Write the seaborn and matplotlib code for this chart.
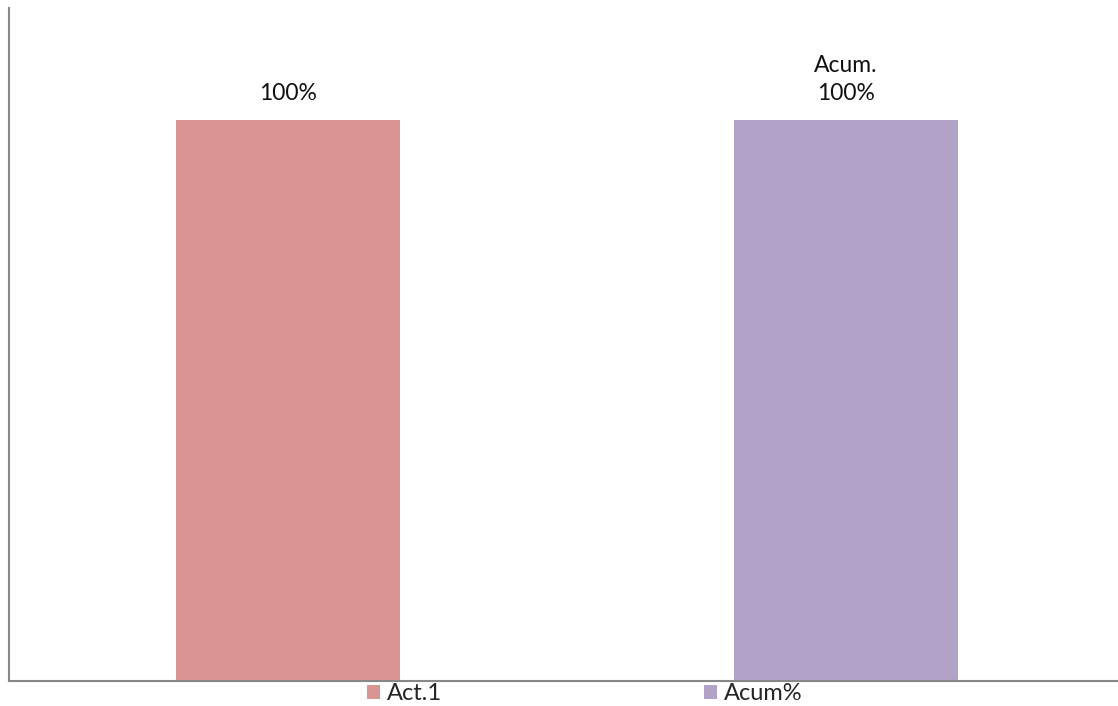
import matplotlib
matplotlib.use("Agg")
import matplotlib.pyplot as plt
import seaborn as sns
import pandas as pd
from matplotlib.patches import Patch

categories = ["Act.1", "Acum%"]
values = [100, 100]
labels = ["100%", "Acum.\n100%"]
colors = ["#D99594", "#B3A2C7"]

sns.set_theme(style="white")
plt.rcParams['font.family'] = ['Lato', 'DejaVu Sans']

df = pd.DataFrame({"cat": categories, "val": values})

fig = plt.figure(figsize=(11.18, 7.06), dpi=100)
ax = fig.add_axes([9/1118, 1 - 681/706, (1117 - 9)/1118, (681 - 8)/706])

sns.barplot(data=df, x="cat", y="val", hue="cat", palette=colors,
            width=0.401, ax=ax, legend=False, saturation=1, linewidth=0)

ax.set_xlim(-0.5, 1.486)
ax.set_ylim(0, 120)
ax.set_xticks([])
ax.set_yticks([])
ax.set_xlabel("")
ax.set_ylabel("")
for s in ["top", "right"]:
    ax.spines[s].set_visible(False)
for s in ["left", "bottom"]:
    ax.spines[s].set_color("#888888")
    ax.spines[s].set_linewidth(1.5)

for i, (v, lab) in enumerate(zip(values, labels)):
    ax.annotate(lab, xy=(i, v), xytext=(0, 12), textcoords="offset points",
                ha="center", va="bottom", fontsize=16.5, color="#111111",
                linespacing=1.4)

handles = [Patch(facecolor=c, edgecolor="none") for c in colors]
fig.legend(handles, categories, loc="center", bbox_to_anchor=(585/1118, 1 - 694/706),
           ncol=2, frameon=False, fontsize=17, handlelength=0.55, handleheight=0.55,
           handletextpad=0.3, columnspacing=11.1, borderpad=0)

fig.savefig("out.png", dpi=100)
